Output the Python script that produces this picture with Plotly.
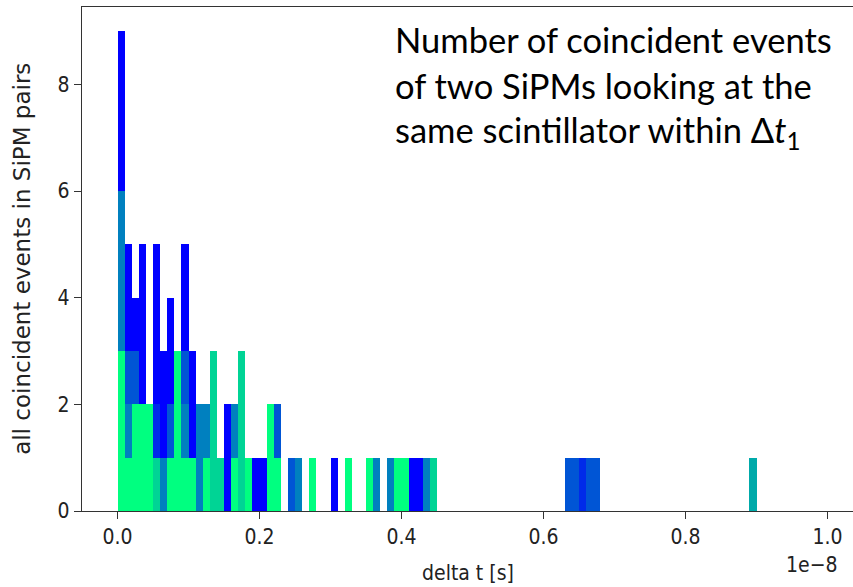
import plotly.graph_objects as go

# Bin left edges (units of 1e-8 s, bin width 0.01) and counts for each SiPM pair series
bin_width = 0.01

pair6_bins = [0.00, 0.01, 0.02, 0.03, 0.04, 0.07, 0.08, 0.09, 0.10, 0.12, 0.16, 0.18, 0.21, 0.22, 0.27, 0.32, 0.35, 0.39, 0.40]
pair6_counts = [3, 1, 2, 2, 2, 1, 3, 1, 1, 1, 1, 1, 2, 1, 1, 1, 1, 1, 1]

pair5_bins = [0.05, 0.13, 0.14, 0.17, 0.44]
pair5_counts = [1, 3, 1, 3, 1]

pair4_bins = [0.89]
pair4_counts = [1]

pair3_bins = [0.00, 0.01, 0.06, 0.09, 0.11, 0.12, 0.16, 0.25, 0.36, 0.38, 0.43]
pair3_counts = [3, 1, 1, 1, 2, 1, 1, 1, 1, 1, 1]

pair2_bins = [0.01, 0.02, 0.07, 0.09, 0.22, 0.24, 0.63, 0.64, 0.66, 0.67]
pair2_counts = [1, 1, 1, 1, 1, 1, 1, 1, 1, 1]

pair1_bins = [0.05, 0.65]
pair1_counts = [1, 1]

pair0_bins = [0.00, 0.01, 0.02, 0.03, 0.05, 0.06, 0.07, 0.09, 0.10, 0.15, 0.19, 0.20, 0.30, 0.41, 0.42]
pair0_counts = [3, 2, 1, 3, 3, 2, 2, 2, 2, 2, 1, 1, 1, 1, 1]

# stacked bottom -> top
series = [
    (pair6_bins, pair6_counts, "#00ff80"),
    (pair5_bins, pair5_counts, "#00d495"),
    (pair4_bins, pair4_counts, "#00aaaa"),
    (pair3_bins, pair3_counts, "#0080bf"),
    (pair2_bins, pair2_counts, "#0055d5"),
    (pair1_bins, pair1_counts, "#002aea"),
    (pair0_bins, pair0_counts, "#0000ff"),
]

x_tick_vals = [0.0, 0.2, 0.4, 0.6, 0.8, 1.0]
x_tick_text = ["0.0", "0.2", "0.4", "0.6", "0.8", "1.0"]
y_tick_vals = [0, 2, 4, 6, 8]

fig = go.Figure()
for bins, counts, color in series:
    fig.add_trace(go.Bar(
        x=bins, y=counts, width=bin_width, offset=0,
        marker=dict(color=color, line=dict(width=0)),
        showlegend=False, hoverinfo="skip",
    ))

cond = "DejaVu Sans Condensed, DejaVu Sans"
tick_font = dict(family=cond, size=21, color="#222222")
xlabel_font = dict(family=cond, size=21, color="#222222")
ylabel_font = dict(family="DejaVu Sans", size=23, color="#222222")
note_font = dict(family="Lato", size=34.5, color="black")

fig.update_layout(
    width=853, height=587,
    margin=dict(l=82, r=0, t=7, b=76),
    paper_bgcolor="white", plot_bgcolor="white",
    barmode="stack", bargap=0,
    xaxis=dict(
        range=[-0.05, 1.0359], tickvals=x_tick_vals, ticktext=x_tick_text,
        showgrid=False, zeroline=False, showline=True, linecolor="#333333", linewidth=1.3,
        mirror=True, ticks="outside", ticklen=7, tickwidth=1.3, tickcolor="#333333",
        tickfont=tick_font,
    ),
    yaxis=dict(
        range=[0, 9.45], tickvals=y_tick_vals, ticksuffix="\u00a0",
        showgrid=False, zeroline=False, showline=True, linecolor="#333333", linewidth=1.3,
        ticks="outside", ticklen=7, tickwidth=1.3, tickcolor="#333333",
        tickfont=tick_font,
    ),
    annotations=[
        dict(text="delta t [s]", xref="paper", yref="paper", x=0.5006, y=-0.123,
             showarrow=False, font=xlabel_font, xanchor="center", yanchor="middle"),
        dict(text="all coincident events in SiPM pairs", xref="paper", yref="paper",
             x=-0.078, y=0.5, textangle=-90, showarrow=False, font=ylabel_font,
             xanchor="center", yanchor="middle"),
        dict(text="1e\u22128", xref="paper", yref="paper", x=0.947, y=-0.107,
             showarrow=False, font=tick_font, xanchor="center", yanchor="middle"),
        dict(text="Number of coincident events", xref="paper", yref="paper",
             x=0.4034, y=0.9346, showarrow=False, xanchor="left", yanchor="middle",
             font=note_font),
        dict(text="of two SiPMs looking at the", xref="paper", yref="paper",
             x=0.4034, y=0.8433, showarrow=False, xanchor="left", yanchor="middle",
             font=note_font),
        dict(text="same scintillator within \u0394<i>t</i><sub>1</sub>", xref="paper", yref="paper",
             x=0.4034, y=0.752, showarrow=False, xanchor="left", yanchor="middle",
             font=note_font),
    ],
)

fig.write_html("out.html")
